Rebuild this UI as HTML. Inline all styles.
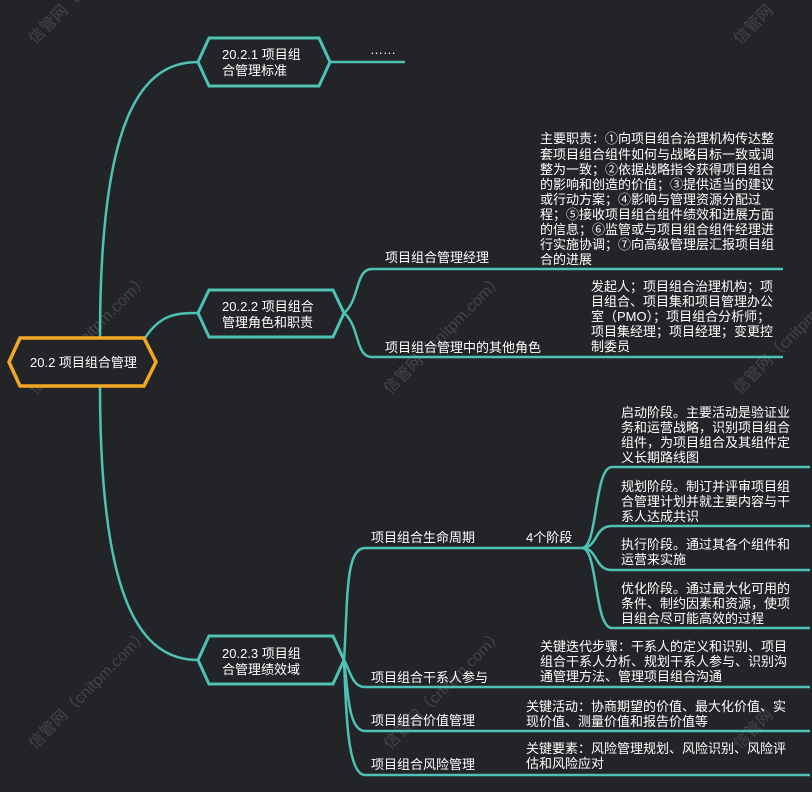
<!DOCTYPE html>
<html><head><meta charset="utf-8"><style>
html,body{margin:0;padding:0;background:#232428;}
svg{display:block}
text{font-family:"Liberation Sans","Noto Sans CJK SC",sans-serif;fill:#fff;font-size:13px}
.wm{fill:#5a5c60;font-size:16px}
</style></head><body>
<svg width="812" height="792" viewBox="0 0 812 792" xmlns="http://www.w3.org/2000/svg">
<rect width="812" height="792" fill="#232428"/>
<g opacity="0.6">
<text class="wm" transform="translate(35,45) rotate(-45)">信管网（cnitpm.com）</text>
<text class="wm" transform="translate(740,45) rotate(-45)">信管网</text>
<text class="wm" transform="translate(35,395) rotate(-45)">信管网（cnitpm.com）</text>
<text class="wm" transform="translate(390,395) rotate(-45)">信管网（cnitpm.com）</text>
<text class="wm" transform="translate(740,395) rotate(-45)">信管网（cnitpm.com）</text>
<text class="wm" transform="translate(35,750) rotate(-45)">信管网（cnitpm.com）</text>
<text class="wm" transform="translate(390,750) rotate(-45)">信管网（cnitpm.com）</text>
<text class="wm" transform="translate(740,750) rotate(-45)">信管网</text>
</g>
<g fill="none" stroke="#4ec3b5" stroke-width="2.5">
<path d="M100,338 C100,120 140,62 198,62"/>
<path d="M145,338 C160,315 175,313 198,313"/>
<path d="M100,386 C100,600 140,660 198,660"/>
<path d="M330,62 L405,62"/>
<path d="M344,313 C360,300 355,269 372,269 L783,269"/>
<path d="M344,313 C360,326 355,357 372,357 L783,357"/>
<path d="M344,660 C348,600 345,548 365,548 L582,548"/>
<path d="M582,548 C598,548 594,467 612,467 L810,467"/>
<path d="M582,548 C598,548 594,526 612,526 L810,526"/>
<path d="M582,548 C598,548 594,570 612,570 L810,570"/>
<path d="M582,548 C598,548 594,628 612,628 L810,628"/>
<path d="M344,660 C350,670 352,687 365,687 L810,687"/>
<path d="M344,660 C348,690 348,731 365,731 L810,731"/>
<path d="M344,660 C346,700 346,775 365,775 L810,775"/>
</g>
<polygon points="20,338 144,338 156,362 144,386 20,386 9,362" fill="#232428" stroke="#f5a623" stroke-width="3.5"/>
<polygon points="209,38 319,38 330,62 319,86 209,86 198,62" fill="#232428" stroke="#4ec3b5" stroke-width="3"/>
<polygon points="209,290 333,290 344,313 333,337 209,337 198,313" fill="#232428" stroke="#4ec3b5" stroke-width="3"/>
<polygon points="209,636 333,636 344,660 333,684 209,684 198,660" fill="#232428" stroke="#4ec3b5" stroke-width="3"/>
<text x="30" y="367">20.2 项目组合管理</text>
<text x="222" y="59">20.2.1 项目组</text><text x="222" y="75">合管理标准</text>
<text x="222" y="311">20.2.2 项目组合</text><text x="222" y="327">管理角色和职责</text>
<text x="222" y="658">20.2.3 项目组</text><text x="222" y="674">合管理绩效域</text>
<text x="370" y="54">……</text>
<text x="385" y="262">项目组合管理经理</text>
<text x="385" y="352">项目组合管理中的其他角色</text>
<g>
<text x="540" y="143">主要职责：①向项目组合治理机构传达整</text>
<text x="540" y="159">套项目组合组件如何与战略目标一致或调</text>
<text x="540" y="174">整为一致；②依据战略指令获得项目组合</text>
<text x="540" y="189">的影响和创造的价值；③提供适当的建议</text>
<text x="540" y="204">或行动方案；④影响与管理资源分配过</text>
<text x="540" y="219">程；⑤接收项目组合组件绩效和进展方面</text>
<text x="540" y="234">的信息；⑥监管或与项目组合组件经理进</text>
<text x="540" y="249">行实施协调；⑦向高级管理层汇报项目组</text>
<text x="540" y="264">合的进展</text>
</g>
<g>
<text x="591" y="291">发起人；项目组合治理机构；项</text>
<text x="591" y="306">目组合、项目集和项目管理办公</text>
<text x="591" y="321">室（PMO）；项目组合分析师；</text>
<text x="591" y="336">项目集经理；项目经理；变更控</text>
<text x="591" y="351">制委员</text>
</g>
<text x="371" y="542">项目组合生命周期</text>
<text x="526" y="542">4个阶段</text>
<text x="621" y="417">启动阶段。主要活动是验证业</text>
<text x="621" y="432">务和运营战略，识别项目组合</text>
<text x="621" y="447">组件，为项目组合及其组件定</text>
<text x="621" y="462">义长期路线图</text>
<text x="621" y="491">规划阶段。制订并评审项目组</text>
<text x="621" y="506">合管理计划并就主要内容与干</text>
<text x="621" y="521">系人达成共识</text>
<text x="621" y="549">执行阶段。通过其各个组件和</text>
<text x="621" y="564">运营来实施</text>
<text x="621" y="593">优化阶段。通过最大化可用的</text>
<text x="621" y="608">条件、制约因素和资源，使项</text>
<text x="621" y="623">目组合尽可能高效的过程</text>
<text x="371" y="682">项目组合干系人参与</text>
<text x="540" y="651">关键迭代步骤：干系人的定义和识别、项目</text>
<text x="540" y="666">组合干系人分析、规划干系人参与、识别沟</text>
<text x="540" y="681">通管理方法、管理项目组合沟通</text>
<text x="371" y="725">项目组合价值管理</text>
<text x="526" y="711">关键活动：协商期望的价值、最大化价值、实</text>
<text x="526" y="726">现价值、测量价值和报告价值等</text>
<text x="371" y="769">项目组合风险管理</text>
<text x="526" y="753">关键要素：风险管理规划、风险识别、风险评</text>
<text x="526" y="768">估和风险应对</text>
</svg>
</body></html>
